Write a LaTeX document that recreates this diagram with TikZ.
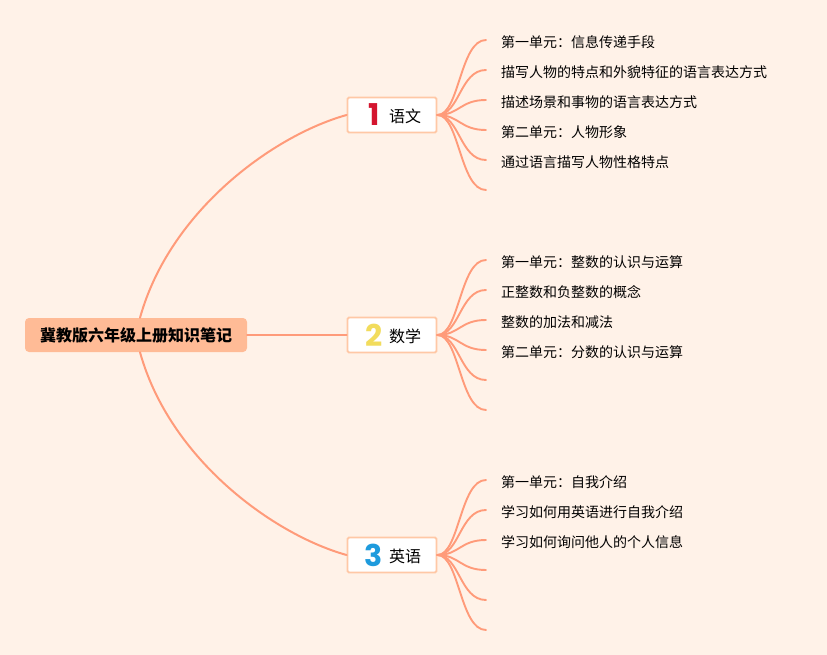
\documentclass[tikz,border=0pt]{standalone}
\usepackage{fontspec}
\setmainfont{Noto Sans CJK SC}
\newfontfamily\numfont{Poppins}
\definecolor{bgc}{HTML}{FFF2E8}
\definecolor{linec}{HTML}{FF9B7A}
\definecolor{rootc}{HTML}{FFBB96}
\definecolor{boxc}{HTML}{FFC8A6}
\definecolor{numa}{HTML}{D4152F}
\definecolor{numb}{HTML}{F2DC5C}
\definecolor{numc}{HTML}{1E9BDD}
\tikzset{
  rootnode/.style={fill=rootc,rounded corners=4pt,minimum width=222pt,minimum height=34pt,inner sep=0pt,font=\fontsize{16}{18}\selectfont\bfseries,text=black},
  branchnode/.style={draw=boxc,line width=1.8pt,fill=white,rounded corners=1.5pt,minimum width=89pt,minimum height=35pt,inner sep=0pt},
  leafnode/.style={anchor=west,inner ysep=0pt,inner xsep=15pt,text height=16pt,text depth=1.4pt,font=\fontsize{14}{16}\selectfont,text=black},
  branchtext/.style={font=\fontsize{16}{18}\selectfont,text=black,inner sep=0pt},
  numtext/.style={font=\numfont\fontsize{30}{30}\selectfont\bfseries,inner sep=0pt},
  conn/.style={draw=linec,line width=2pt,line cap=round},
  twig/.style={draw=linec,line width=1.9pt,line cap=round}
}
\begin{document}
\begin{tikzpicture}[x=1pt,y=-1pt]
\useasboundingbox[fill=bgc] (0,0) rectangle (827,655);
\node[rootnode] (root) at (136,335) {冀教版六年级上册知识笔记};
\node[branchnode] (b1) at (392,115) {};
\node[branchnode] (b2) at (392,335) {};
\node[branchnode] (b3) at (392,555) {};
\node[numtext,text=numa] (n1) at (374.5,115) {1};
\node[numtext,text=numb] (n2) at (374,335) {2};
\node[numtext,text=numc] (n3) at (374,555) {3};
\node[branchtext] (t1) at (405,116) {语文};
\node[branchtext] (t2) at (405,336) {数学};
\node[branchtext] (t3) at (405,556) {英语};
% leaves
\node[leafnode] (a1) at (486,40) {第一单元：信息传递手段};
\node[leafnode] (a2) at (486,70) {描写人物的特点和外貌特征的语言表达方式};
\node[leafnode] (a3) at (486,100) {描述场景和事物的语言表达方式};
\node[leafnode] (a4) at (486,130) {第二单元：人物形象};
\node[leafnode] (a5) at (486,160) {通过语言描写人物性格特点};
\coordinate (a6) at (486,190);
\node[leafnode] (c1) at (486,260) {第一单元：整数的认识与运算};
\node[leafnode] (c2) at (486,290) {正整数和负整数的概念};
\node[leafnode] (c3) at (486,320) {整数的加法和减法};
\node[leafnode] (c4) at (486,350) {第二单元：分数的认识与运算};
\coordinate (c5) at (486,380);
\coordinate (c6) at (486,410);
\node[leafnode] (d1) at (486,480) {第一单元：自我介绍};
\node[leafnode] (d2) at (486,510) {学习如何用英语进行自我介绍};
\node[leafnode] (d3) at (486,540) {学习如何询问他人的个人信息};
\coordinate (d4) at (486,570);
\coordinate (d5) at (486,600);
\coordinate (d6) at (486,630);
% main connectors
\draw[conn] ([xshift=4pt]root.north) .. controls +(30,-108) and +(-72,20) .. (b1.west);
\draw[conn] (root.east) -- (b2.west);
\draw[conn] ([xshift=4pt]root.south) .. controls +(30,108) and +(-72,-20) .. (b3.west);
% twigs
\foreach \b/\p in {b1/a,b2/c,b3/d}{
  \foreach \i in {1,...,6}{
    \draw[twig] (\b.east) .. controls ([xshift=22pt]\b.east) and ([xshift=-26pt]\p\i.west) .. (\p\i.west);
  }
}
\end{tikzpicture}
\end{document}
